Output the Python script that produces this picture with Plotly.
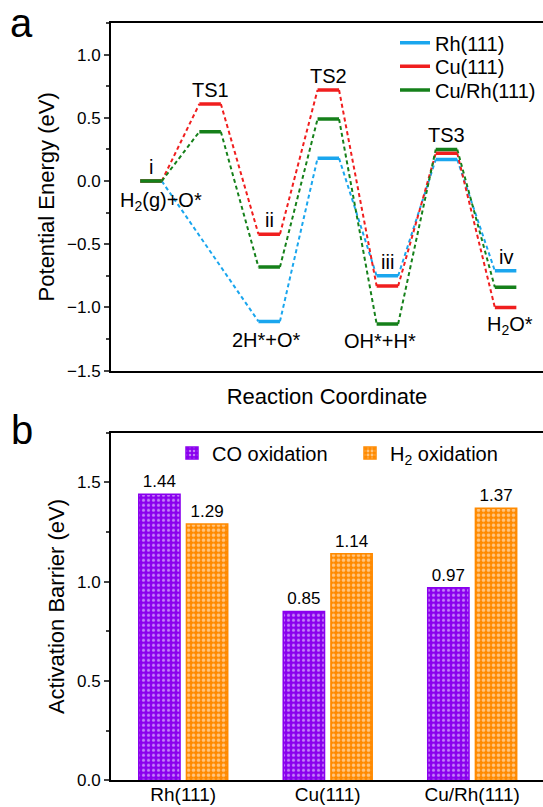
import plotly.graph_objects as go

# ---------------- data ----------------
steps = ["i", "TS1", "ii", "TS2", "iii", "TS3", "iv"]
species = ["H<sub>2</sub>(g)+O*", "", "2H*+O*", "", "OH*+H*", "", "H<sub>2</sub>O*"]
rh111 = [0.00, None, -1.11, 0.18, -0.75, 0.17, -0.71]
cu111 = [0.00, 0.61, -0.42, 0.72, -0.83, 0.22, -1.00]
curh111 = [0.00, 0.39, -0.68, 0.49, -1.13, 0.25, -0.84]

surfaces = ["Rh(111)", "Cu(111)", "Cu/Rh(111)"]
co_barrier = [1.44, 0.85, 0.97]
h2_barrier = [1.29, 1.14, 1.37]

# ---------------- style ----------------
FONT = "Liberation Sans, Arial, sans-serif"
BLUE, RED, GREEN = "#1AA6EE", "#F01E1E", "#15801A"
PURPLE, ORANGE = "#8A00EE", "#FF8A00"
HW = 0.182  # half width of an energy level (in step units)

series = [("Rh(111)", rh111, BLUE), ("Cu(111)", cu111, RED), ("Cu/Rh(111)", curh111, GREEN)]
legend_ids = ["legend", "legend3", "legend4"]


def level_xy(vals):
    x, y = [], []
    for k, v in enumerate(vals):
        if v is None:
            continue
        x += [k + 1 - HW, k + 1 + HW, None]
        y += [v, v, None]
    return x, y


def connector_xy(vals):
    pts = [(k + 1, v) for k, v in enumerate(vals) if v is not None]
    x, y = [], []
    for (k1, v1), (k2, v2) in zip(pts, pts[1:]):
        x += [k1 + HW, k2 - HW, None]
        y += [v1, v2, None]
    return x, y


fig = go.Figure()

for name, vals, col in series:
    cx, cy = connector_xy(vals)
    fig.add_trace(go.Scatter(x=cx, y=cy, mode="lines", line=dict(color=col, width=2, dash="4px,3px"),
                             showlegend=False, hoverinfo="skip", xaxis="x", yaxis="y"))
for (name, vals, col), lid in zip(series, legend_ids):
    lx, ly = level_xy(vals)
    fig.add_trace(go.Scatter(x=lx, y=ly, mode="lines", name=name, line=dict(color=col, width=3.5),
                             legend=lid, xaxis="x", yaxis="y"))

# bars
fig.add_trace(go.Bar(x=surfaces, y=co_barrier, name="CO oxidation", xaxis="x2", yaxis="y2",
                     marker=dict(color=PURPLE, line=dict(color=PURPLE, width=1.5),
                                 pattern=dict(shape=".", fgcolor="white", bgcolor=PURPLE, size=5, solidity=0.3)),
                     texttemplate="%{y:.2f}", textposition="outside", cliponaxis=False,
                     textfont=dict(size=17, color="black", family=FONT), constraintext="none",
                     legend="legend2"))
fig.add_trace(go.Bar(x=surfaces, y=h2_barrier, name="H<sub>2</sub> oxidation", xaxis="x2", yaxis="y2",
                     marker=dict(color=ORANGE, line=dict(color=ORANGE, width=1.5),
                                 pattern=dict(shape=".", fgcolor="white", bgcolor=ORANGE, size=5, solidity=0.4)),
                     texttemplate="%{y:.2f}", textposition="outside", cliponaxis=False,
                     textfont=dict(size=17, color="black", family=FONT), constraintext="none",
                     legend="legend2"))

# annotations for the energy profile
ann = []
above_shift = 14
below = {0: (10, -20), 2: (-3, -19), 4: (-7, -17), 6: (4, -18)}
for k, lab in enumerate(steps):
    vals = [s[1][k] for s in series if s[1][k] is not None]
    ann.append(dict(x=k + 1, y=max(vals), xref="x", yref="y", text=lab, showarrow=False,
                    yanchor="middle", yshift=above_shift, font=dict(size=20, color="black", family=FONT)))
    if species[k]:
        xs, ys = below[k]
        ann.append(dict(x=k + 1, y=min(vals), xref="x", yref="y", text=species[k], showarrow=False,
                        yanchor="middle", xshift=xs, yshift=ys, font=dict(size=20, color="black", family=FONT)))

ann.append(dict(x=0.04, y=1 - 23 / 807, xref="paper", yref="paper", text="a", showarrow=False,
                xanchor="center", yanchor="middle", font=dict(size=40, color="black", family=FONT)))
ann.append(dict(x=0.04, y=1 - 430 / 807, xref="paper", yref="paper", text="b", showarrow=False,
                xanchor="center", yanchor="middle", font=dict(size=40, color="black", family=FONT)))

axis_common = dict(showline=True, linecolor="black", linewidth=2, showgrid=False, zeroline=False,
                   tickfont=dict(size=17, color="black", family=FONT), automargin=False)

top_legend = dict(x=395 / 543, xanchor="left", yanchor="middle", bgcolor="rgba(0,0,0,0)",
                  font=dict(size=20, color="black", family=FONT))

x0 = 111 / 543
fig.update_layout(
    width=543, height=807,
    margin=dict(l=0, r=0, t=0, b=0),
    paper_bgcolor="white", plot_bgcolor="white",
    font=dict(family=FONT, color="black"),
    barmode="group", bargap=0.34, bargroupgap=0.134,
    xaxis=dict(domain=[x0, 1], anchor="y", range=[0.323, 7.633], showticklabels=False, ticks="",
               mirror=True, title=dict(text="Reaction Coordinate", font=dict(size=22, family=FONT), standoff=17),
               **axis_common),
    yaxis=dict(domain=[1 - 370.7 / 807, 1 - 23 / 807], anchor="x", range=[-1.5, 1.25], dtick=0.5,
               tickformat=".1f", ticks="outside", ticklen=5, tickwidth=2,
               minor=dict(dtick=0.25, ticks="outside", ticklen=3, tickwidth=2, showgrid=False),
               title=dict(text="Potential Energy (eV)", font=dict(size=22, family=FONT), standoff=6),
               **axis_common),
    xaxis2=dict(domain=[x0, 1], anchor="y2", range=[-0.5, 2.49], ticks="", mirror=True,
                ticklabelstandoff=-4, **axis_common),
    yaxis2=dict(domain=[1 - 780.3 / 807, 1 - 432.7 / 807], anchor="x2", range=[0, 1.75], dtick=0.5,
                tickformat=".1f", ticks="outside", ticklen=5, tickwidth=2,
                minor=dict(dtick=0.25, ticks="outside", ticklen=3, tickwidth=2, showgrid=False),
                title=dict(text="Activation Barrier (eV)", font=dict(size=22, family=FONT), standoff=6),
                **axis_common),
    legend=dict(y=1 - 42.7 / 807, **top_legend),
    legend3=dict(y=1 - 66.3 / 807, **top_legend),
    legend4=dict(y=1 - 90 / 807, **top_legend),
    legend2=dict(orientation="h", x=172 / 543, y=1 - 453 / 807, xanchor="left", yanchor="middle",
                 bgcolor="rgba(0,0,0,0)", font=dict(size=20, color="black", family=FONT),
                 entrywidth=133, entrywidthmode="pixels"),
    annotations=ann,
)
fig.update_xaxes(tickfont=dict(size=19), selector=dict(anchor="y2"))

fig.write_html("out.html")
